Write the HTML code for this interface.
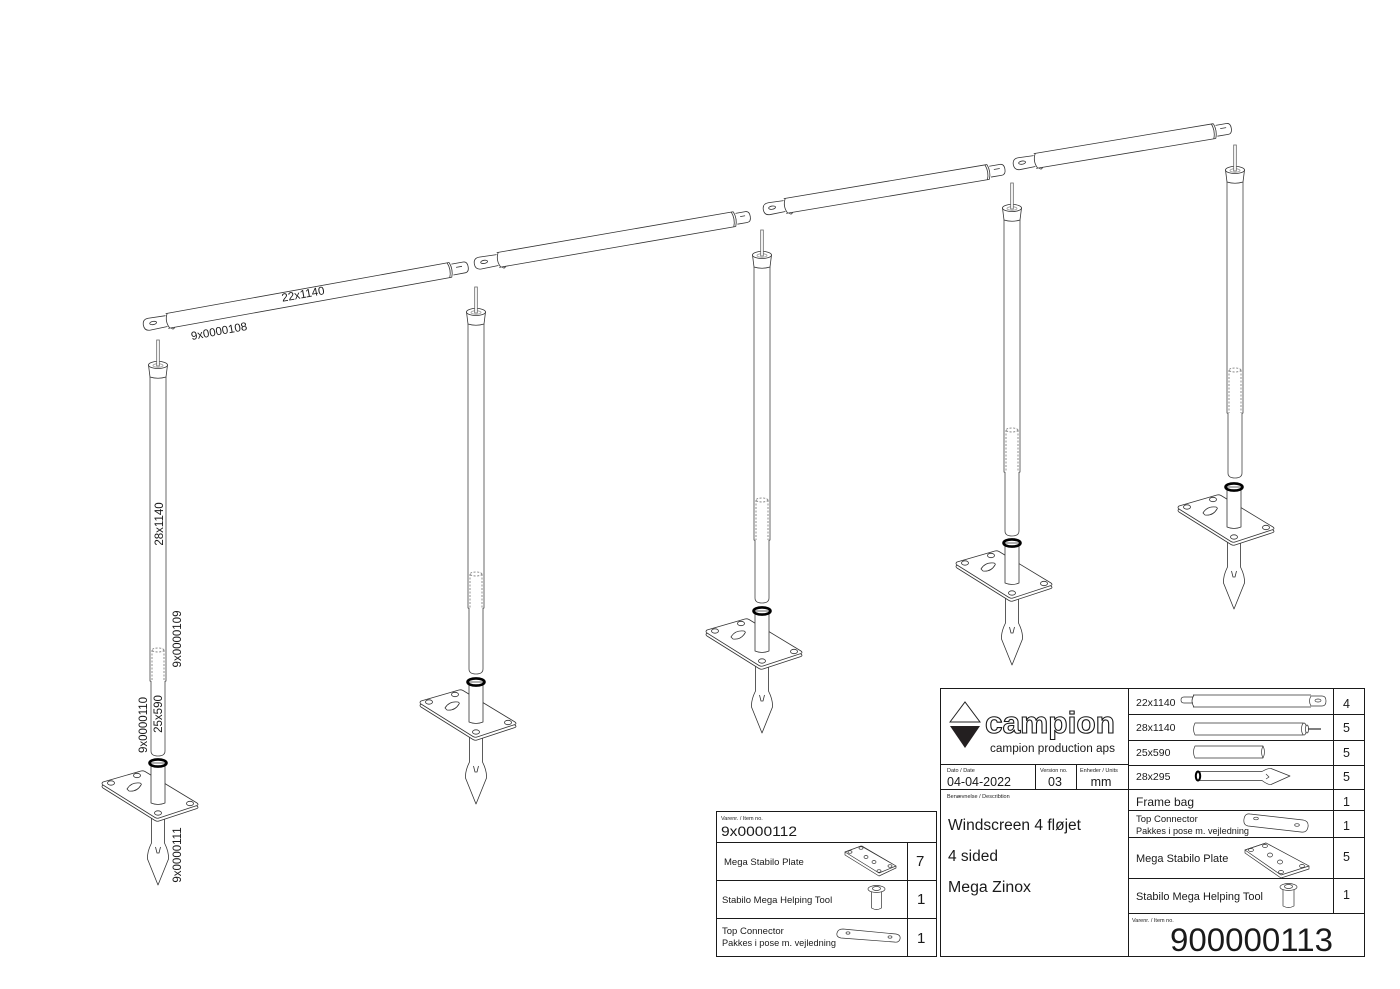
<!DOCTYPE html>
<html><head><meta charset="utf-8">
<style>
html,body{margin:0;padding:0;background:#fff;}
svg{display:block;}
text{font-family:"Liberation Sans",Arial,sans-serif;fill:#1a1a1a;}
</style></head><body>
<svg width="1400" height="989" viewBox="0 0 1400 989" xmlns="http://www.w3.org/2000/svg">
<defs>
<g id="top" fill="#fff" stroke="#333" stroke-width="0.8">
  <path d="M-9.5,25 L-8,37 Q0,39.5 8,37 L9.5,25 Z"/>
  <ellipse cx="0" cy="25" rx="9.5" ry="3.6"/>
  <ellipse cx="0" cy="25.5" rx="5" ry="1.8" stroke="#999"/>
  <rect x="-1.3" y="0" width="2.6" height="26" stroke="#666"/>
</g>
<g id="plate">
  <path d="M-55,19 L-17,8 Q-15,7.5 -13,8.5 L39,40 Q41,41.5 39,42.5 L1,55 Q-1,55.7 -3,54.5 L-55,22 Q-57,20.5 -55,19 Z"/>
</g>
<g id="base" fill="#fff" stroke="#333" stroke-width="0.8" stroke-linejoin="round">
  <path d="M-6.5,40 L-6.5,80 Q-11,89 -10.5,96 L0,122 L10.5,96 Q11,89 6.5,80 L6.5,40"/>
  <path d="M-2.5,84 L-1,90 L1,90 L2.5,84" fill="none"/>
  <use href="#plate" transform="translate(0,3)"/>
  <use href="#plate"/>
  <ellipse cx="-47" cy="20" rx="3.5" ry="2.2"/>
  <ellipse cx="-21" cy="12.5" rx="3.5" ry="2.2"/>
  <ellipse cx="32" cy="40.5" rx="3.5" ry="2.2"/>
  <ellipse cx="0" cy="50" rx="3.5" ry="2.2"/>
  <path d="M-31,26 Q-27,19 -18,20 Q-16,21 -17,22 Q-21,29 -29,28 Z"/>
  <path d="M-7,0 V40 Q0,43 7,40 V0 Z"/>
  <ellipse cx="0" cy="0" rx="8.5" ry="3.6" fill="none" stroke="#000" stroke-width="2.6"/>
</g>
</defs>

<!-- ================= RAILS ================= -->
<g fill="#fff" stroke="#333" stroke-width="0.8" stroke-linejoin="round">
  <g transform="translate(167,321) rotate(-10.22)">
    <path d="M-0.5,-5.5 L-18,-6 Q-24,-6 -24,0 Q-24,6 -18,6 L-0.5,5.5"/>
    <ellipse cx="-14" cy="-0.5" rx="3.5" ry="1.6"/>
    <path d="M0,-7.5 H288 M0,7.5 H288" fill="none"/>
    <path d="M1.5,-7.5 Q-2.5,0 1.5,7.5" fill="none"/>
    <path d="M3,7.5 q1.5,3 3.5,0" fill="none"/>
    <path d="M286,-7.5 Q289,0 286,7.5 M288,-7.5 Q291,0 288,7.5" fill="none"/>
    <path d="M290,-5.5 H302 Q306,-5.5 306,0 Q306,5.5 302,5.5 H290"/>
    <path d="M294,-1.5 H300" fill="none"/>
  </g>
  <g transform="translate(498,260) rotate(-9.81)">
    <path d="M-0.5,-5.5 L-18,-6 Q-24,-6 -24,0 Q-24,6 -18,6 L-0.5,5.5"/>
    <ellipse cx="-14" cy="-0.5" rx="3.5" ry="1.6"/>
    <path d="M0,-7.5 H240 M0,7.5 H240" fill="none"/>
    <path d="M1.5,-7.5 Q-2.5,0 1.5,7.5" fill="none"/>
    <path d="M3,7.5 q1.5,3 3.5,0" fill="none"/>
    <path d="M238,-7.5 Q241,0 238,7.5 M240,-7.5 Q243,0 240,7.5" fill="none"/>
    <path d="M242,-5.5 H252 Q256,-5.5 256,0 Q256,5.5 252,5.5 H242"/>
    <path d="M246,-1.5 H251" fill="none"/>
  </g>
  <g transform="translate(785,206) rotate(-9.51)">
    <path d="M-0.5,-5.5 L-16,-6 Q-22,-6 -22,0 Q-22,6 -16,6 L-0.5,5.5"/>
    <ellipse cx="-13" cy="-0.5" rx="3.5" ry="1.6"/>
    <path d="M0,-7.5 H206 M0,7.5 H206" fill="none"/>
    <path d="M1.5,-7.5 Q-2.5,0 1.5,7.5" fill="none"/>
    <path d="M3,7.5 q1.5,3 3.5,0" fill="none"/>
    <path d="M204,-7.5 Q207,0 204,7.5 M206,-7.5 Q209,0 206,7.5" fill="none"/>
    <path d="M208,-5.5 H219 Q223,-5.5 223,0 Q223,5.5 219,5.5 H208"/>
    <path d="M212,-1.5 H218" fill="none"/>
  </g>
  <g transform="translate(1035,161) rotate(-9.46)">
    <path d="M-0.5,-5.5 L-16,-6 Q-22,-6 -22,0 Q-22,6 -16,6 L-0.5,5.5"/>
    <ellipse cx="-13" cy="-0.5" rx="3.5" ry="1.6"/>
    <path d="M0,-7.5 H182 M0,7.5 H182" fill="none"/>
    <path d="M1.5,-7.5 Q-2.5,0 1.5,7.5" fill="none"/>
    <path d="M3,7.5 q1.5,3 3.5,0" fill="none"/>
    <path d="M180,-7.5 Q183,0 180,7.5 M182,-7.5 Q185,0 182,7.5" fill="none"/>
    <path d="M184,-5.5 H195 Q199,-5.5 199,0 Q199,5.5 195,5.5 H184"/>
    <path d="M188,-1.5 H194" fill="none"/>
  </g>
</g>
<text transform="translate(303,294) rotate(-10.22)" y="4" text-anchor="middle" font-size="11.5">22x1140</text>
<text transform="translate(219,331) rotate(-10.22)" y="4" text-anchor="middle" font-size="11.5">9x0000108</text>

<!-- ================= POSTS ================= -->
<g fill="none" stroke="#444" stroke-width="0.8">
  <path d="M150,377 V681 Q158,684 166,681 V377"/>
  <path d="M152,650 V681 M164,650 V681" stroke-dasharray="2,1.5" stroke="#777"/>
  <ellipse cx="158" cy="650" rx="6" ry="2" stroke-dasharray="2,1.5" stroke="#777"/>
  <path d="M151,681 V751 Q151,756 158,756 Q165,756 165,751 V681" fill="#fff"/>
  <path d="M468,324 V608 Q476,611 484,608 V324"/>
  <path d="M470,574 V608 M482,574 V608" stroke-dasharray="2,1.5" stroke="#777"/>
  <ellipse cx="476" cy="574" rx="6" ry="2" stroke-dasharray="2,1.5" stroke="#777"/>
  <path d="M469,608 V669 Q469,674 476,674 Q483,674 483,669 V608" fill="#fff"/>
  <path d="M754,267 V540 Q762,543 770,540 V267"/>
  <path d="M756,500 V540 M768,500 V540" stroke-dasharray="2,1.5" stroke="#777"/>
  <ellipse cx="762" cy="500" rx="6" ry="2" stroke-dasharray="2,1.5" stroke="#777"/>
  <path d="M755,540 V598 Q755,603 762,603 Q769,603 769,598 V540" fill="#fff"/>
  <path d="M1004,220 V472 Q1012,475 1020,472 V220"/>
  <path d="M1006,430 V472 M1018,430 V472" stroke-dasharray="2,1.5" stroke="#777"/>
  <ellipse cx="1012" cy="430" rx="6" ry="2" stroke-dasharray="2,1.5" stroke="#777"/>
  <path d="M1005,472 V531 Q1005,536 1012,536 Q1019,536 1019,531 V472" fill="#fff"/>
  <path d="M1227,182 V413 Q1235,416 1243,413 V182"/>
  <path d="M1229,370 V413 M1241,370 V413" stroke-dasharray="2,1.5" stroke="#777"/>
  <ellipse cx="1235" cy="370" rx="6" ry="2" stroke-dasharray="2,1.5" stroke="#777"/>
  <path d="M1228,413 V473 Q1228,478 1235,478 Q1242,478 1242,473 V413" fill="#fff"/>
</g>
<use href="#top" transform="translate(158,340)"/>
<use href="#top" transform="translate(476,287)"/>
<use href="#top" transform="translate(762,230)"/>
<use href="#top" transform="translate(1012,183)"/>
<use href="#top" transform="translate(1235,145)"/>
<use href="#base" transform="translate(158,763)"/>
<use href="#base" transform="translate(476,682)"/>
<use href="#base" transform="translate(762,611)"/>
<use href="#base" transform="translate(1012,543)"/>
<use href="#base" transform="translate(1234,487)"/>

<g font-size="11.5" text-anchor="middle">
  <text transform="translate(159,524) rotate(-90)" y="4">28x1140</text>
  <text transform="translate(177,639) rotate(-90)" y="4">9x0000109</text>
  <text transform="translate(143,725) rotate(-90)" y="4">9x0000110</text>
  <text transform="translate(158,714) rotate(-90)" y="4">25x590</text>
  <text transform="translate(177,855) rotate(-90)" y="4">9x0000111</text>
</g>

<!-- ================= SMALL TABLE ================= -->
<g fill="none" stroke="#1a1a1a" stroke-width="1">
  <rect x="716.5" y="811.5" width="220" height="145"/>
  <path d="M716,842.5 H937 M716,880.5 H937 M716,918.5 H937 M907.5,842 V957"/>
</g>
<text x="721" y="820" font-size="5.5">Varenr. / Item no.</text>
<text x="721" y="836" font-size="14" textLength="76" lengthAdjust="spacingAndGlyphs">9x0000112</text>
<text x="724" y="865" font-size="9.5">Mega Stabilo Plate</text>
<text x="916" y="866" font-size="15">7</text>
<text x="722" y="903" font-size="9.5">Stabilo Mega Helping Tool</text>
<text x="917" y="904" font-size="15">1</text>
<text x="722" y="934" font-size="9.5">Top Connector</text>
<text x="722" y="946" font-size="9.5" textLength="114" lengthAdjust="spacingAndGlyphs">Pakkes i pose m. vejledning</text>
<text x="917" y="943" font-size="15">1</text>
<g fill="#fff" stroke="#333" stroke-width="0.7" stroke-linejoin="round">
  <path d="M845,855 L879,876 L896,868 L896,866 L862,846 L845,852 Z"/>
  <path d="M845,852 L861,846 L896,866 L879,873 Z"/>
  <ellipse cx="850" cy="852" rx="2" ry="1.3"/><ellipse cx="861" cy="848" rx="2" ry="1.3"/>
  <ellipse cx="890" cy="866" rx="2" ry="1.3"/><ellipse cx="879" cy="871" rx="2" ry="1.3"/>
  <ellipse cx="866" cy="857" rx="2" ry="1.5"/><ellipse cx="874" cy="862" rx="2" ry="1.5"/>
  <path d="M871.5,891 V908 Q876.5,911 881.5,908 V891"/>
  <ellipse cx="876.5" cy="889" rx="8.5" ry="3.5"/>
  <ellipse cx="876.5" cy="888.5" rx="4" ry="2"/>
  <path d="M843,929 L896,934 Q901,935 900,939 Q899,943 894,942 L841,938 Q836,937 837,933 Q838,929 843,929 Z"/>
  <ellipse cx="848" cy="933" rx="2" ry="1.2"/><ellipse cx="890" cy="937" rx="2" ry="1.2"/>
</g>

<!-- ================= TITLE BLOCK ================= -->
<g fill="none" stroke="#1a1a1a" stroke-width="1">
  <rect x="940.5" y="688.5" width="424" height="268"/>
  <path d="M1128.5,688 V957"/>
  <path d="M1333.5,688 V913"/>
  <path d="M1128,714.5 H1365 M1128,740.5 H1365 M1128,765.5 H1365 M1128,789.5 H1365 M1128,810.5 H1365 M1128,837.5 H1365 M1128,878.5 H1365 M1128,913.5 H1365"/>
  <path d="M940,764.5 H1128 M940,789.5 H1128 M1035.5,764 V789 M1076.5,764 V789"/>
</g>
<path d="M950,722 L965,702 L980,722 Z" fill="#fff" stroke="#222" stroke-width="1"/>
<path d="M950,726 L980,726 L965,748 Z" fill="#231f20"/>
<text x="985" y="733" font-family="Liberation Serif, serif" font-weight="bold" font-size="31" stroke="#1a1a1a" stroke-width="1.1" textLength="130" lengthAdjust="spacingAndGlyphs" style="fill:#fff">campion</text>
<text x="990" y="752" font-size="11.5" textLength="125" lengthAdjust="spacingAndGlyphs">campion production aps</text>
<text x="947" y="772" font-size="5.5">Dato / Date</text>
<text x="947" y="786" font-size="12.5" textLength="64" lengthAdjust="spacingAndGlyphs">04-04-2022</text>
<text x="1040" y="772" font-size="5.5">Version no.</text>
<text x="1055" y="786" font-size="12.5" text-anchor="middle">03</text>
<text x="1080" y="772" font-size="5.5">Enheder / Units</text>
<text x="1101" y="786" font-size="12.5" text-anchor="middle">mm</text>
<text x="947" y="798" font-size="5.5">Benævnelse / Describtion</text>
<text x="948" y="830" font-size="15.5" textLength="133" lengthAdjust="spacingAndGlyphs">Windscreen 4 fløjet</text>
<text x="948" y="861" font-size="15.5">4 sided</text>
<text x="948" y="892" font-size="15.5" textLength="83" lengthAdjust="spacingAndGlyphs">Mega Zinox</text>

<g font-size="10.5">
  <text x="1136" y="706">22x1140</text>
  <text x="1136" y="731">28x1140</text>
  <text x="1136" y="756">25x590</text>
  <text x="1136" y="780">28x295</text>
</g>
<text x="1136" y="806" font-size="12">Frame bag</text>
<text x="1136" y="822" font-size="9.5">Top Connector</text>
<text x="1136" y="834" font-size="9.5" textLength="113" lengthAdjust="spacingAndGlyphs">Pakkes i pose m. vejledning</text>
<text x="1136" y="862" font-size="11">Mega Stabilo Plate</text>
<text x="1136" y="900" font-size="11" textLength="127" lengthAdjust="spacingAndGlyphs">Stabilo Mega Helping Tool</text>
<g font-size="12.5">
  <text x="1343" y="708">4</text>
  <text x="1343" y="732">5</text>
  <text x="1343" y="757">5</text>
  <text x="1343" y="781">5</text>
  <text x="1343" y="806">1</text>
  <text x="1343" y="830">1</text>
  <text x="1343" y="861">5</text>
  <text x="1343" y="899">1</text>
</g>
<text x="1132" y="922" font-size="5.5">Varenr. / Item no.</text>
<text x="1170" y="951" font-size="32.5" textLength="163" lengthAdjust="spacingAndGlyphs">900000113</text>

<g fill="#fff" stroke="#333" stroke-width="0.7" stroke-linejoin="round">
  <path d="M1193,697 H1184 Q1181,697 1181,700 Q1181,703 1184,703 H1193"/>
  <path d="M1193,695 H1311 M1193,707 H1311" fill="none"/>
  <path d="M1194,695 Q1190,701 1194,707" fill="none"/>
  <path d="M1311,696 H1322 Q1326,696 1326,701 Q1326,706 1322,706 H1311 Q1308,701 1311,696 Z"/>
  <ellipse cx="1318" cy="700.5" rx="3" ry="1.5"/>
  <path d="M1195,723 H1303 Q1306,729 1303,735 H1195 Q1192,729 1195,723 Z"/>
  <ellipse cx="1304" cy="729" rx="2.5" ry="6"/>
  <ellipse cx="1307" cy="729" rx="1.5" ry="4"/>
  <path d="M1308,728.3 H1321 M1308,729.7 H1321" fill="none"/>
  <path d="M1195,746 H1263 Q1266,752 1263,758 H1195 Q1192,752 1195,746 Z"/>
  <path d="M1263,746 Q1260,752 1263,758" fill="none"/>
  <path d="M1200,771.5 H1262 Q1268,768 1271,768.5 L1290,776 L1271,784.5 Q1268,785 1262,780.5 H1200 Z"/>
  <path d="M1266,774 L1269,777 L1266,779" fill="none"/>
  <ellipse cx="1198" cy="776" rx="2.2" ry="4.5" stroke="#000" stroke-width="2"/>
  <path d="M1250,814 L1303,820 Q1309,821 1308,827 Q1307,833 1301,832 L1248,826 Q1243,825 1244,819 Q1245,813 1250,814 Z"/>
  <ellipse cx="1256" cy="818.5" rx="2.3" ry="1.3"/><ellipse cx="1297" cy="825" rx="2.3" ry="1.3"/>
  <path d="M1245,853 L1281,878 L1309,869 L1309,866 L1266,843 L1245,850 Z"/>
  <path d="M1245,850 L1266,843 L1309,866 L1281,875 Z"/>
  <ellipse cx="1251" cy="850" rx="2.5" ry="1.5"/><ellipse cx="1265" cy="846" rx="2.5" ry="1.5"/>
  <ellipse cx="1302" cy="866" rx="2.5" ry="1.5"/><ellipse cx="1281" cy="872" rx="2.5" ry="1.5"/>
  <ellipse cx="1270" cy="855" rx="2.5" ry="2"/><ellipse cx="1280" cy="862" rx="2.5" ry="2"/>
  <path d="M1283,889 V906 Q1288.5,909 1294,906 V889"/>
  <ellipse cx="1288.5" cy="887" rx="8.5" ry="3.5"/>
  <ellipse cx="1288.5" cy="886.5" rx="4" ry="2"/>
</g>
</svg>
</body></html>
